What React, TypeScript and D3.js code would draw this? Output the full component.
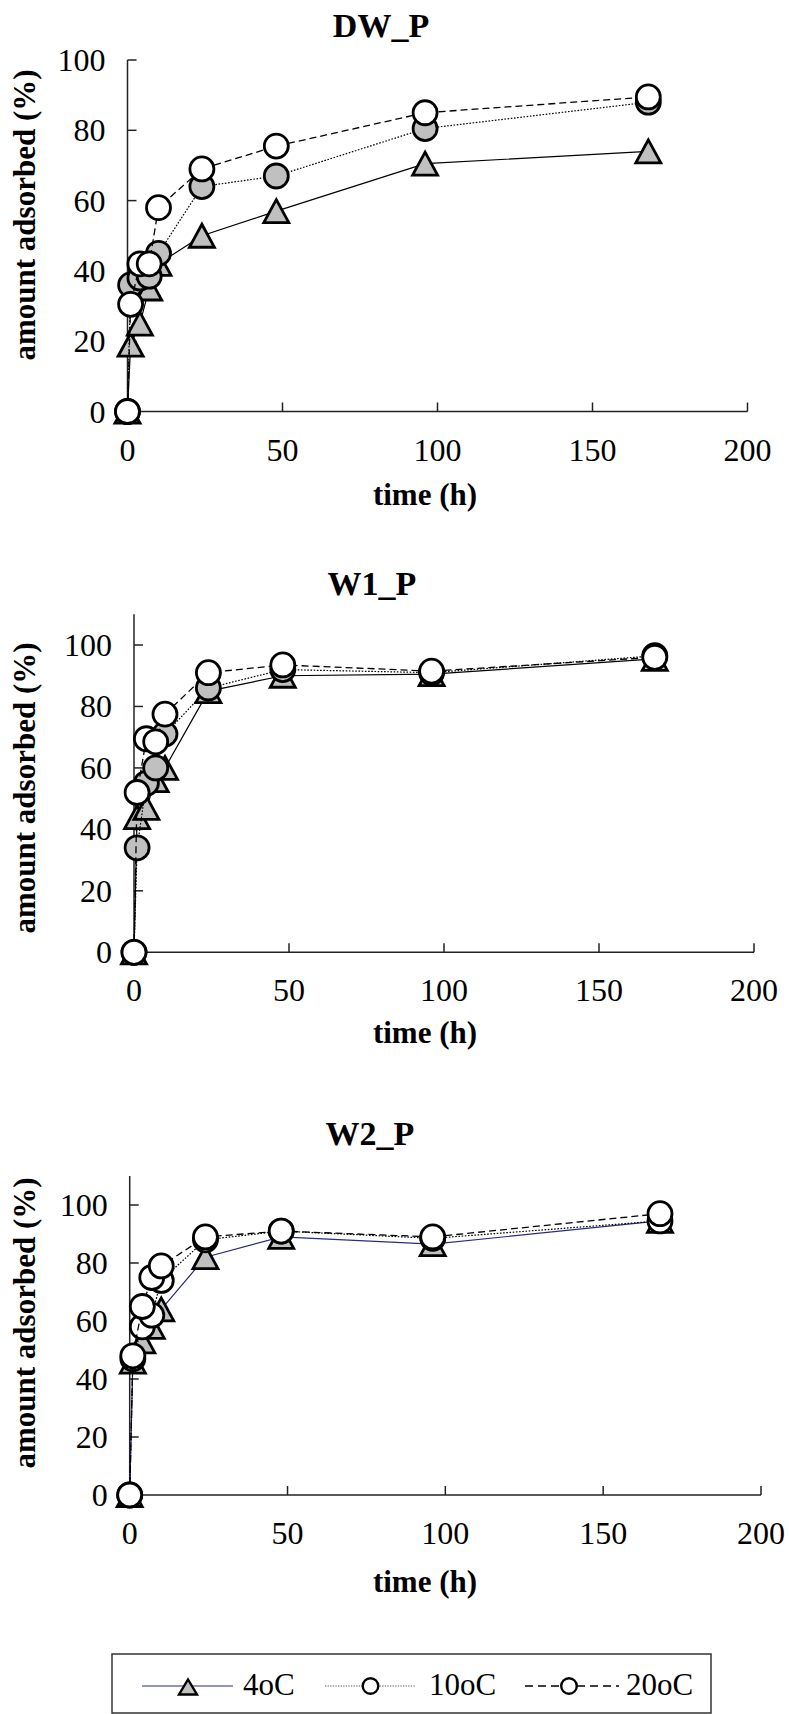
import React from 'react';
import * as d3 from 'd3';

// ---- data ----
const times = [0, 1, 4, 7, 10, 24, 48, 96, 168];
const seriesNames = ['4oC', '10oC', '20oC'];
const xTicks = [0, 50, 100, 150, 200];
const yTicks = [0, 20, 40, 60, 80, 100];

const dw4 = [0, 19, 25, 35, 42, 50, 57, 70.5, 74];
const dw10 = [0, 36, 38, 38.5, 45, 64, 67, 80.5, 88];
const dw20 = [0, 30.5, 42, 42, 58, 69, 75.5, 85, 89.5];

const w1_4 = [0, 44, 47, 56, 60, 85, 90, 90.5, 95.5];
const w1_10 = [0, 34, 55, 60, 71, 86, 92, 91, 96.5];
const w1_20 = [0, 52, 69.5, 68.5, 77.5, 91, 93.5, 91.5, 96];

const w2_4 = [0, 46, 53, 58, 64, 82, 89, 86.5, 94.5];
const w2_10 = [0, 47, 58, 62, 74, 88, 91, 88.5, 94.5];
const w2_20 = [0, 48, 65, 75, 79, 89, 91, 89, 97];

// ---- layout ----
const SERIF = "'Liberation Serif', 'Times New Roman', serif";
const GRAY = '#c0c0c0';

const panels = [
  { title: 'DW_P', data: [dw4, dw10, dw20], x0: 127.5, x1: 747.5, y0: 411.5, y100: 60, yMax: 100,
    fill10: GRAY, line4: '#000', titleX: 381, titleY: 37, ylabY: 215, xlabY: 505 },
  { title: 'W1_P', data: [w1_4, w1_10, w1_20], x0: 134, x1: 754, y0: 952.3, y100: 645, yMax: 110,
    fill10: GRAY, line4: '#000', titleX: 372, titleY: 595, ylabY: 788, xlabY: 1043 },
  { title: 'W2_P', data: [w2_4, w2_10, w2_20], x0: 129.7, x1: 761, y0: 1495, y100: 1205, yMax: 110,
    fill10: '#fff', line4: '#2a2a80', titleX: 370, titleY: 1145, ylabY: 1323, xlabY: 1592 },
];

const dash = ['none', '1.6,1.6', '7,4'];

function Tri({ x, y, hw = 12.5, hh = 11.5, sw = 2.8 }: any) {
  return (
    <path d={`M${x},${y - hh}L${x + hw},${y + hh}L${x - hw},${y + hh}Z`}
      fill={GRAY} stroke="#000" strokeWidth={sw} strokeLinejoin="miter" />
  );
}

function Panel({ p }: any) {
  const x = d3.scaleLinear().domain([0, 200]).range([p.x0, p.x1]);
  const yTop = p.y0 - (p.yMax * (p.y0 - p.y100)) / 100;
  const y = d3.scaleLinear().domain([0, p.yMax]).range([p.y0, yTop]);
  const line = d3.line<number>().x((_, i) => x(times[i])).y((d) => y(d));
  const axisColor = '#222';
  return (
    <g>
      <text x={p.titleX} y={p.titleY} textAnchor="middle" fontFamily={SERIF} fontWeight="bold" fontSize={34}>{p.title}</text>
      {/* axes */}
      <line x1={p.x0} x2={p.x0} y1={p.y0} y2={yTop} stroke={axisColor} strokeWidth={1.5} />
      <line x1={p.x0} x2={p.x1} y1={p.y0} y2={p.y0} stroke={axisColor} strokeWidth={1.5} />
      {yTicks.map((t) => (
        <g key={'y' + t}>
          {t > 0 && <line x1={p.x0} x2={p.x0 + 9} y1={y(t)} y2={y(t)} stroke={axisColor} strokeWidth={1.5} />}
          <text x={p.x0 - 22} y={y(t) + 11} textAnchor="end" fontFamily={SERIF} fontSize={32}>{t}</text>
        </g>
      ))}
      {xTicks.map((t) => (
        <g key={'x' + t}>
          {t > 0 && <line x1={x(t)} x2={x(t)} y1={p.y0} y2={p.y0 - 9} stroke={axisColor} strokeWidth={1.5} />}
          <text x={x(t)} y={p.y0 + 49} textAnchor="middle" fontFamily={SERIF} fontSize={32}>{t}</text>
        </g>
      ))}
      <text transform={`translate(24,${p.ylabY}) rotate(-90)`} textAnchor="middle" dy="0.35em"
        fontFamily={SERIF} fontWeight="bold" fontSize={31}>amount adsorbed (%)</text>
      <text x={425} y={p.xlabY} textAnchor="middle" fontFamily={SERIF} fontWeight="bold" fontSize={31}>time (h)</text>
      {/* series */}
      {p.data.map((vals: number[], si: number) => (
        <g key={si}>
          <path d={line(vals) || ''} fill="none" stroke={si === 0 ? p.line4 : '#000'} strokeWidth={si === 2 ? 1.3 : 1.2}
            strokeDasharray={dash[si]} />
          {vals.map((v, i) =>
            si === 0 ? (
              <Tri key={i} x={x(times[i])} y={y(v)} />
            ) : (
              <circle key={i} cx={x(times[i])} cy={y(v)} r={12} fill={si === 1 ? p.fill10 : '#fff'} stroke="#000" strokeWidth={2.8} />
            )
          )}
        </g>
      ))}
    </g>
  );
}

function Legend() {
  const cy = 1686;
  return (
    <g>
      <rect x={112} y={1654} width={599} height={59} fill="#fff" stroke="#333" strokeWidth={1.5} />
      <line x1={142} x2={233} y1={cy} y2={cy} stroke="#2a2a80" strokeWidth={1.2} />
      <Tri x={188} y={cy + 1} hw={9} hh={7.5} sw={2.4} />
      <text x={243} y={cy + 9} fontFamily={SERIF} fontSize={31}>{seriesNames[0]}</text>
      <line x1={325} x2={415} y1={cy} y2={cy} stroke="#555" strokeWidth={1} strokeDasharray="1.3,1.3" />
      <circle cx={370.5} cy={cy} r={7.8} fill="#fff" stroke="#000" strokeWidth={2.4} />
      <text x={429} y={cy + 9} fontFamily={SERIF} fontSize={31}>{seriesNames[1]}</text>
      <line x1={525} x2={619} y1={cy} y2={cy} stroke="#000" strokeWidth={1.3} strokeDasharray="8,5" />
      <circle cx={569} cy={cy} r={7.8} fill="#fff" stroke="#000" strokeWidth={2.4} />
      <text x={626} y={cy + 9} fontFamily={SERIF} fontSize={31}>{seriesNames[2]}</text>
    </g>
  );
}

export default function App() {
  return (
    <svg width={789} height={1714} style={{ position: 'absolute', left: 0, top: 0, background: '#fff' }}>
      {panels.map((p) => (
        <Panel key={p.title} p={p} />
      ))}
      <Legend />
    </svg>
  );
}
